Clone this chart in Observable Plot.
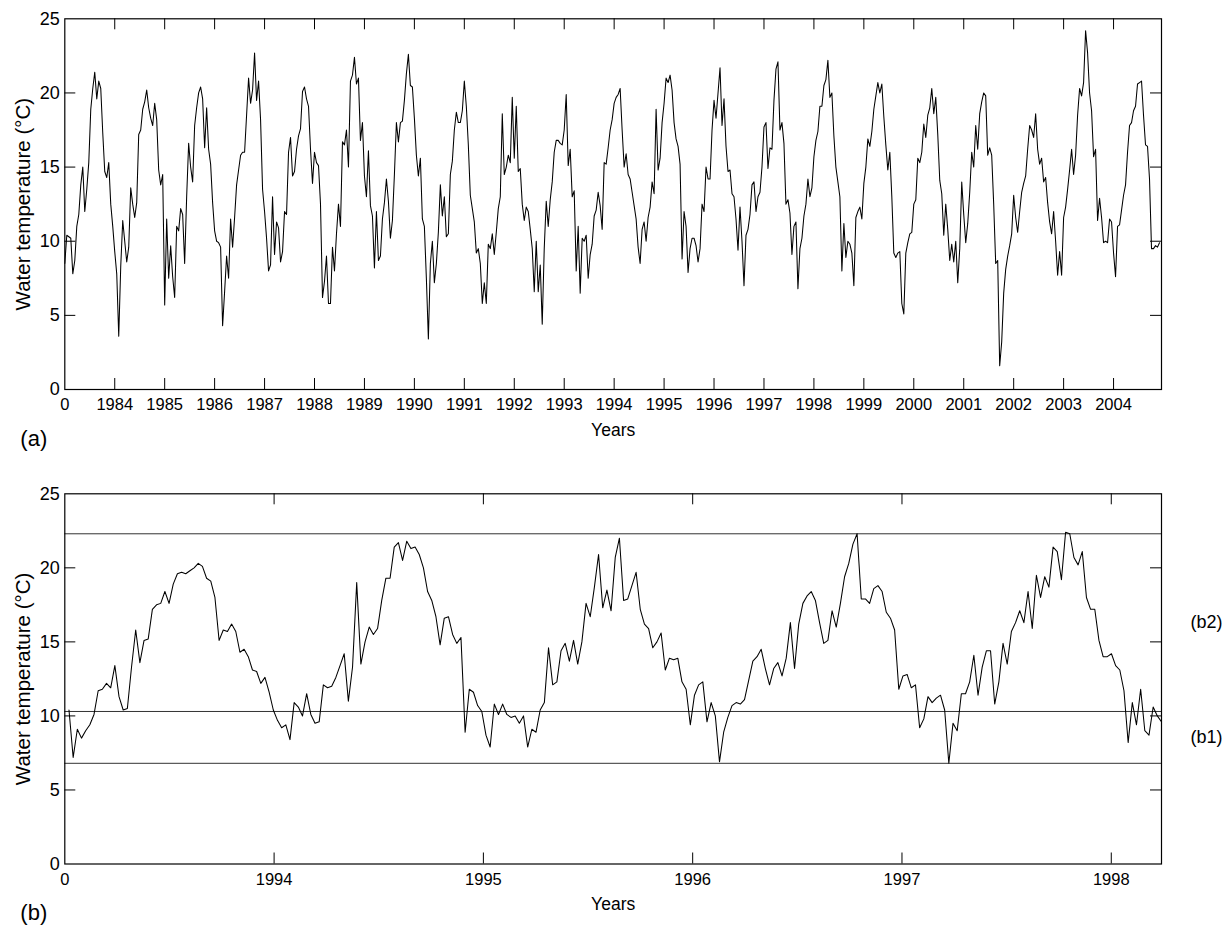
<!DOCTYPE html>
<html><head><meta charset="utf-8">
<script src="https://cdn.jsdelivr.net/npm/d3@7"></script>
<script src="https://cdn.jsdelivr.net/npm/@observablehq/plot@0.6"></script>
<style>
html,body{margin:0;padding:0;background:#fff;}
#chart svg{display:block;}
</style></head><body><div id="chart"></div>
<script>
// ---------- Panel (a): water temperature 1983-2004, 25 readings per year ----------
const aStart = 1983, aPerYear = 25, aEnd = 2004.96;
const aTemps = [
8.5,10.4,10.3,10.2,7.8,8.7,11.0,11.8,13.8,15.0,12.0,13.5,15.3,18.9,20.3,21.4,19.6,20.8,20.3,17.3,14.7,14.3,15.3,12.5,11.0,
9.3,7.8,3.6,8.3,11.4,10.0,8.6,9.6,13.6,12.5,11.6,12.6,17.2,17.5,18.9,19.4,20.2,19.0,18.3,17.8,19.3,18.2,14.8,13.8,14.5,
5.7,11.5,7.5,9.7,7.6,6.2,11.0,10.7,12.2,11.8,8.5,13.0,16.6,15.0,14.0,17.8,19.0,20.0,20.4,19.6,16.3,19.0,16.2,15.2,12.6,
10.7,10.0,9.9,9.6,4.3,6.6,9.0,7.5,11.5,9.6,11.6,13.8,14.8,15.8,16.0,16.0,18.5,21.0,19.3,20.2,22.7,19.5,20.8,18.2,13.5,
12.0,10.2,8.0,8.4,13.0,9.1,11.3,10.9,8.6,9.3,12.0,11.8,16.0,17.0,14.4,14.7,16.2,17.1,17.6,20.1,20.4,19.6,19.1,16.2,13.9,
16.0,15.3,15.1,12.5,6.2,7.3,9.0,5.8,5.8,9.6,8.0,10.5,12.5,11.0,16.7,16.5,17.5,15.0,20.8,21.2,22.4,20.6,21.0,16.8,18.0,
14.4,13.0,16.1,12.4,11.7,8.2,12.0,8.7,9.0,11.5,12.6,14.2,12.7,10.2,11.4,14.5,18.0,16.7,18.0,18.1,19.5,21.3,22.6,20.5,20.4,
18.3,15.8,14.4,15.6,11.5,11.0,7.5,3.4,8.5,10.0,7.2,8.5,10.6,13.8,11.7,13.0,10.3,10.5,14.5,15.4,17.5,18.7,18.0,18.0,18.8,
20.8,19.1,16.5,13.1,12.2,11.3,9.2,9.5,8.5,5.8,7.2,5.8,9.8,9.5,10.5,9.1,10.6,12.2,13.0,18.6,14.5,15.0,15.8,15.3,19.7,
15.6,19.1,14.7,14.9,12.5,11.4,12.3,12.0,10.8,9.5,6.6,10.0,6.6,8.4,4.4,9.5,12.7,11.0,12.8,14.0,16.0,16.8,16.8,16.6,16.5,
17.5,19.9,15.1,16.2,13.0,13.4,8.0,11.0,6.5,10.2,10.0,10.4,7.5,9.1,9.8,11.7,12.1,13.3,12.4,10.8,15.3,15.2,16.3,17.5,18.2,
19.3,19.7,19.9,20.3,17.5,15.0,15.9,14.5,14.2,13.3,12.4,11.5,9.6,8.5,10.8,11.3,10.0,11.6,12.3,14.0,13.2,18.9,14.8,15.6,18.0,
19.3,21.0,20.7,21.2,20.2,18.0,16.9,16.4,15.2,8.8,12.0,11.0,7.9,9.5,10.2,10.2,9.7,8.6,9.5,12.5,12.0,15.0,14.2,14.2,17.5,
19.5,18.3,20.0,21.7,17.8,19.6,16.4,14.7,14.8,13.2,13.0,11.5,9.4,12.3,10.0,7.0,10.4,10.8,11.8,13.8,14.0,12.0,13.0,13.3,15.0,
17.7,18.0,14.9,16.3,16.2,19.5,21.6,22.1,17.5,18.0,16.6,12.5,12.8,11.9,9.1,11.0,11.3,6.8,9.5,10.2,11.7,12.5,14.2,13.0,13.6,
15.7,16.8,17.4,19.1,19.1,20.5,20.9,22.2,19.7,20.0,17.1,15.0,14.0,13.0,8.0,11.2,8.9,10.0,9.8,9.2,7.0,11.6,12.0,12.3,11.5,
13.9,15.0,16.9,16.4,17.4,18.9,19.8,20.7,20.0,20.6,18.4,16.5,14.8,16.0,13.0,9.2,8.9,9.2,9.3,5.8,5.1,9.2,9.9,10.5,10.6,
12.5,12.8,15.6,15.3,16.0,17.9,17.0,18.5,19.0,20.3,18.6,19.7,17.2,14.1,13.2,10.4,12.5,10.8,8.7,9.8,8.6,10.0,7.2,9.5,14.0,
11.8,9.9,11.2,13.3,16.0,15.0,17.8,16.2,18.6,19.4,20.0,19.8,15.8,16.3,15.8,12.5,8.5,8.7,1.6,3.2,6.5,8.1,9.0,9.7,10.5,
13.1,11.6,10.6,12.0,13.3,13.9,14.4,16.2,17.8,17.5,17.0,18.6,16.2,15.2,15.6,14.0,14.3,12.6,11.3,10.5,12.0,10.0,7.7,9.3,7.7,
11.6,12.3,13.5,14.8,16.2,14.5,15.8,18.5,20.3,19.8,20.7,24.2,22.7,20.0,18.8,15.7,16.2,11.4,12.9,11.6,9.9,10.0,9.9,11.5,11.3,
9.2,7.6,11.0,11.1,12.1,13.1,13.8,16.0,17.8,18.0,18.8,19.1,20.6,20.7,20.8,18.5,16.5,16.4,14.2,9.5,9.5,9.7,9.6,9.9
];
const aTickYears  = [1983,1984,1985,1986,1987,1988,1989,1990,1991,1992,1993,1994,1995,1996,1997,1998,1999,2000,2001,2002,2003,2004];
const aTickLabels = ["0","1984","1985","1986","1987","1988","1989","1990","1991","1992","1993","1994","1995","1996","1997","1998","1999","2000","2001","2002","2003","2004"];

// ---------- Panel (b): weekly detail ----------
const bStart = 1993.02, bEnd = 1998.24, bDomainStart = 1993;
const bTemps = [
10.4,7.2,9.1,8.5,9.0,9.4,10.1,11.7,11.8,12.2,
11.9,13.4,11.3,10.4,10.5,13.3,15.8,13.6,15.1,15.2,
17.2,17.5,17.6,18.4,17.6,18.9,19.6,19.7,19.6,19.8,
20.0,20.3,20.1,19.3,19.1,18.0,15.1,15.8,15.7,16.2,
15.7,14.3,14.5,14.0,13.1,13.0,12.2,12.6,11.6,10.4,
9.7,9.2,9.4,8.4,10.9,10.6,10.0,11.5,10.1,9.5,
9.6,12.1,11.9,12.0,12.6,13.4,14.2,11.0,13.3,19.0,
13.5,15.0,16.0,15.5,15.9,17.8,19.3,19.3,21.4,21.7,
20.5,21.8,21.3,21.4,20.9,20.0,18.4,17.8,16.7,14.8,
16.6,16.7,15.5,14.9,15.3,8.9,11.8,11.6,10.7,10.3,
8.7,7.9,10.8,10.1,10.8,10.1,9.9,10.0,9.5,10.0,
7.9,9.1,8.9,10.4,10.9,14.6,12.1,12.3,14.4,14.9,
13.7,15.1,13.5,15.0,17.6,16.7,18.7,20.9,17.3,18.5,
17.1,20.7,22.0,17.8,17.9,18.8,19.7,17.2,16.2,15.9,
14.6,15.0,15.6,13.1,13.9,13.8,13.9,12.3,11.8,9.4,
11.4,12.1,12.3,9.6,10.9,10.0,6.9,8.9,9.9,10.7,
10.9,10.8,11.1,12.4,13.7,14.0,14.5,13.2,12.1,13.2,
13.6,12.7,13.9,16.3,13.2,16.2,17.6,18.1,18.4,17.8,
16.3,14.9,15.1,17.1,16.0,17.6,19.4,20.3,21.6,22.3,
17.9,17.9,17.6,18.6,18.8,18.4,17.0,16.6,15.8,11.8,
12.7,12.8,11.9,12.1,9.2,9.8,11.3,10.9,11.2,11.4,
10.4,6.8,9.5,9.0,11.5,11.5,12.3,14.1,11.4,13.3,
14.4,14.4,10.8,12.3,14.9,13.5,15.7,16.3,17.1,16.3,
18.4,15.9,19.5,18.0,19.4,18.7,21.4,21.1,19.2,22.4,
22.3,20.7,20.2,21.1,18.0,17.2,17.2,15.1,14.0,14.0,
14.2,13.4,13.1,11.7,8.2,10.9,9.4,11.8,9.0,8.7,
10.6,10.0,9.6
];
const bTickYears  = [1993,1994,1995,1996,1997,1998];
const bTickLabels = ["0","1994","1995","1996","1997","1998"];
const bLevels = [6.8, 10.3, 22.3];
const bLevelTags = ["(b1)", "(b2)"];

const yTicks = [0,5,10,15,20,25];
const yTitle = "Water temperature (°C)";
const xTitle = "Years";

// ---------- build tables ----------
const aRows = aTemps.map((v,i) => ({t: aStart + i / aPerYear, v}));
const bStep = (bEnd - bStart) / (bTemps.length - 1);
const bRows = bTemps.map((v,i) => ({t: bStart + i * bStep, v}));
const bTagRows = bLevelTags.map((label,i) => ({label, y: (bLevels[i] + bLevels[i+1]) / 2}));

const FONT = "'Liberation Sans', Arial, Helvetica, sans-serif";
const W = 1231, ML = 64.3, MR = 70, TICK = 11;

function panel({rows, xDomain, ticks, labels, height, marginTop, marginBottom, tag, extra = []}) {
  const fh = height - marginTop - marginBottom;
  const fw = W - ML - MR;
  const fmt = new Map(ticks.map((t,i) => [t, labels[i]]));
  const xInner = ticks.slice(1);
  const yInner = yTicks.slice(1, -1);
  return Plot.plot({
    width: W, height, marginTop, marginBottom, marginLeft: ML, marginRight: MR,
    style: {fontFamily: FONT, fontSize: "17px", color: "#000", background: "#fff", overflow: "visible"},
    x: {domain: xDomain},
    y: {domain: [0, 25]},
    marks: [
      ...extra,
      Plot.lineY(rows, {x: "t", y: "v", stroke: "#000", strokeWidth: 1.05, clip: true}),
      Plot.tickX(xInner, {x: d => d, insetTop: fh - TICK, stroke: "#000", strokeWidth: 1}),
      Plot.tickX(xInner, {x: d => d, insetBottom: fh - TICK, stroke: "#000", strokeWidth: 1}),
      Plot.tickY(yInner, {y: d => d, insetRight: fw - TICK, stroke: "#000", strokeWidth: 1}),
      Plot.tickY(yInner, {y: d => d, insetLeft: fw - TICK, stroke: "#000", strokeWidth: 1}),
      Plot.frame({stroke: "#000", strokeWidth: 1.2}),
      Plot.axisX({ticks, tickSize: 0, tickPadding: 9, tickFormat: d => fmt.get(d), label: null, fontSize: 16.5}),
      Plot.axisY({ticks: yTicks, tickSize: 0, tickPadding: 5, label: null, fontSize: 18}),
      Plot.text([yTitle], {text: d => d, frameAnchor: "left", textAnchor: "middle", dx: -41, rotate: -90, fontSize: 20.5}),
      Plot.text([xTitle], {text: d => d, frameAnchor: "bottom", textAnchor: "middle", dy: 46, fontSize: 17.5}),
      Plot.text([tag], {text: d => d, frameAnchor: "bottom-left", textAnchor: "middle", dx: -31, dy: 56, fontSize: 22})
    ]
  });
}

const chart = document.getElementById("chart");
chart.appendChild(panel({
  rows: aRows, xDomain: [aStart, aEnd], ticks: aTickYears, labels: aTickLabels,
  height: 460, marginTop: 18.3, marginBottom: 71, tag: "(a)"
}));
chart.appendChild(panel({
  rows: bRows, xDomain: [bDomainStart, bEnd], ticks: bTickYears, labels: bTickLabels,
  height: 475, marginTop: 33.3, marginBottom: 71.5, tag: "(b)",
  extra: [
    Plot.ruleY(bLevels, {y: d => d, stroke: "#333", strokeWidth: 1}),
    Plot.text(bTagRows, {y: "y", text: "label", frameAnchor: "right", textAnchor: "middle", dx: 45, fontSize: 18})
  ]
}));
</script></body></html>
